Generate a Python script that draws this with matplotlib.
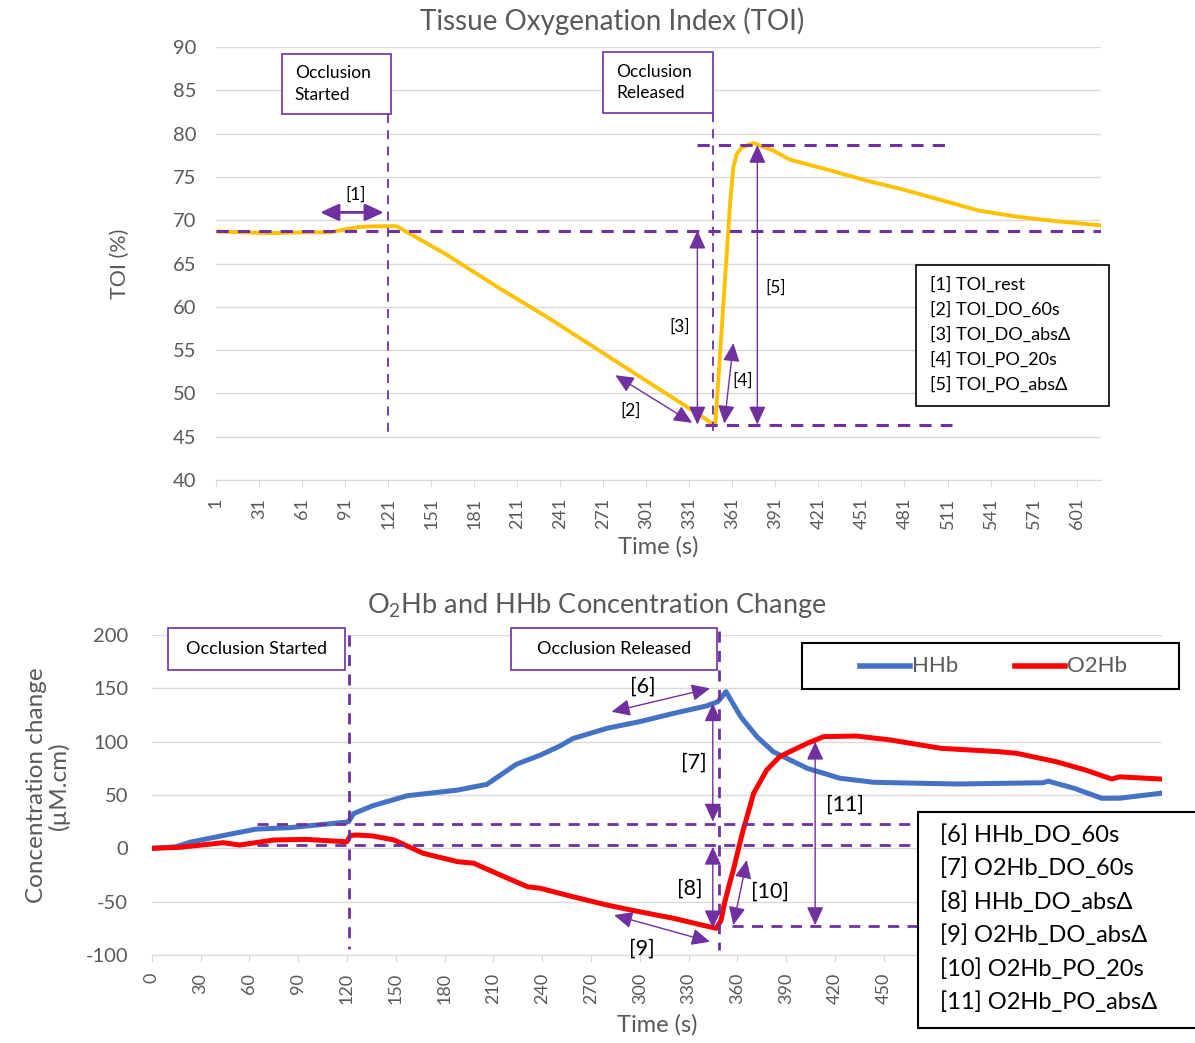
import matplotlib
matplotlib.use("Agg")
import matplotlib.pyplot as plt
from matplotlib.patches import Rectangle
from matplotlib.lines import Line2D

plt.rcParams['font.family'] = ['Lato', 'DejaVu Sans']
plt.rcParams['axes.unicode_minus'] = False
plt.rcParams['mathtext.fontset'] = 'custom'
plt.rcParams['mathtext.rm'] = 'Lato'

# ---- data ----
toi_time = [1, 20, 40, 60, 80, 90, 100, 110, 127, 162, 200, 232, 278, 325, 340, 347,
            349, 352, 356, 359.6, 361.7, 364, 367, 372, 376, 390, 401, 428, 454, 481,
            507, 533, 560, 586, 618]
toi_vals = [68.7, 68.6, 68.5, 68.6, 68.6, 68.9, 69.2, 69.3, 69.3, 66.0, 62.0, 58.8,
            53.9, 48.9, 47.3, 46.5, 46.3, 53.5, 63.5, 72.3, 76.1, 77.6, 78.3, 78.7,
            78.9, 78.0, 77.0, 75.8, 74.6, 73.5, 72.3, 71.1, 70.4, 69.9, 69.4]

hhb_time = [0, 15, 24, 44, 64, 85, 105, 120, 121, 124, 136, 157, 188, 206, 224, 239,
            251, 259, 280, 300, 321, 341, 348, 353, 362, 372, 382, 403, 423, 444, 495,
            548, 551, 567, 584, 595, 620]
hhb_vals = [0, 1.5, 5.9, 12, 18, 19.4, 22.4, 24.6, 25, 32.5, 40, 49.3, 54.6, 60, 78.7,
            87.5, 96, 103, 112.6, 118.8, 126.6, 133.5, 137.5, 146.9, 123.5, 104.7, 90.6,
            75, 65.7, 61.9, 60.3, 61.5, 63, 56.3, 46.9, 47, 51.6]

o2hb_time = [0, 17, 30, 44, 54, 75, 95, 110, 120, 122, 126, 136, 149, 167, 188, 198,
             212, 231, 239, 259, 280, 300, 321, 341, 347, 350, 352, 355, 357.5, 363,
             370, 378, 386, 403, 413, 433, 454, 485, 521, 532, 556, 574, 590, 595, 620]
o2hb_vals = [0, 0.9, 3, 5.3, 3.1, 7.8, 8.4, 7, 6.2, 12, 12.5, 11.6, 7.8, -4.7, -12.5,
             -14, -23.5, -36, -37.5, -45.4, -53.2, -59.5, -65.7, -72.9, -75, -67.3,
             -52, -34, -20.4, 14, 51.6, 73.4, 86, 98.5, 104.7, 105.3, 101.6, 93.8,
             90.6, 89, 81.2, 73.4, 65, 67, 65]

toi_ticks = list(range(1, 602, 30))
conc_ticks = list(range(0, 601, 30))
conc_tick_labels = [str(t) if t <= 450 else '' for t in conc_ticks]  # rest hidden by the key box

occl_start = 121
occl_release = 347.5

toi_rest, toi_min, toi_max = 68.8, 46.3, 78.7
hhb_rest, o2hb_rest, o2hb_min = 23, 3, -73

toi_legend = ['[1] TOI_rest', '[2] TOI_DO_60s', '[3] TOI_DO_absΔ',
              '[4] TOI_PO_20s', '[5] TOI_PO_absΔ']
conc_legend = ['[6] HHb_DO_60s', '[7] O2Hb_DO_60s', '[8] HHb_DO_absΔ',
               '[9] O2Hb_DO_absΔ', '[10] O2Hb_PO_20s', '[11] O2Hb_PO_absΔ']

GRAY = '#595959'
GRID = '#D9D9D9'
PURPLE = '#7030A0'
W, H = 1195, 1043


def fx(x):
    return x / W


def fy(y):
    return 1 - y / H


def style_axes(ax):
    for s in ['top', 'right', 'left']:
        ax.spines[s].set_visible(False)
    ax.spines['bottom'].set_color(GRID)
    ax.grid(axis='y', color=GRID, linewidth=1)
    ax.set_axisbelow(True)
    ax.tick_params(axis='y', length=0, colors=GRAY, labelsize=14.5, pad=14)
    ax.tick_params(axis='x', length=5, color=GRID, colors=GRAY, labelsize=13,
                   rotation=90, pad=8)


def arrow(ax, p0, p1, lw=1.0):
    ax.annotate('', xy=p1, xytext=p0,
                arrowprops=dict(arrowstyle='<|-|>,head_length=0.7,head_width=0.32',
                                color=PURPLE, lw=lw, shrinkA=0, shrinkB=0,
                                mutation_scale=16))


fig = plt.figure(figsize=(W / 100, H / 100), dpi=100)

# ---------------- TOI panel ----------------
ax1 = fig.add_axes([fx(216), fy(480), fx(1101) - fx(216), fy(47) - fy(480)])
ax1.plot(toi_time, toi_vals, color='#FFC000', linewidth=2.8, zorder=3)
ax1.set_xlim(1, 618)
ax1.set_ylim(40, 90)
ax1.set_yticks(range(40, 91, 5))
ax1.set_xticks(toi_ticks)
style_axes(ax1)
ax1.set_ylabel('TOI (%)', color=GRAY, fontsize=15.5)
ax1.yaxis.set_label_coords(-0.097, 0.5)
ax1.set_xlabel('Time (s)', color=GRAY, fontsize=17)
ax1.xaxis.set_label_coords(0.5, -0.13)

dash = dict(color=PURPLE, linestyle=(0, (4, 3)), linewidth=2.2, zorder=4)
ax1.plot([1, 618], [toi_rest, toi_rest], **dash)
ax1.plot([336, 513], [toi_max, toi_max], **dash)
ax1.plot([342, 514], [toi_min, toi_min], **dash)
thin = dict(color=PURPLE, linestyle=(0, (5, 4)), linewidth=1.3, zorder=4)
ax1.plot([occl_start, occl_start], [82.3, 45], **thin)
ax1.plot([occl_release, occl_release], [82.4, 45], **thin)

for (x0, x1, y0, y1, txt) in [(47, 123, 82.3, 89.2, 'Occlusion\nStarted'),
                              (271, 347.7, 82.4, 89.4, 'Occlusion\nReleased')]:
    ax1.add_patch(Rectangle((x0, y0), x1 - x0, y1 - y0, facecolor='white',
                            edgecolor=PURPLE, linewidth=1.2, zorder=5))
    ax1.text(x0 + 9, (y0 + y1) / 2, txt, fontsize=12.5, va='center', ha='left',
             linespacing=1.45, zorder=6)

arrow(ax1, (73.6, 70.9), (118, 70.9), lw=2)
arrow(ax1, (279.4, 52.1), (333, 46.6))
arrow(ax1, (336.6, 46.4), (336.6, 68.8))
arrow(ax1, (355.4, 46.5), (361.7, 55.8))
arrow(ax1, (378.4, 46.4), (378.4, 78.7))
for (x, y, t) in [(98, 73.0, '[1]'), (290, 48.0, '[2]'), (324, 57.7, '[3]'),
                  (368, 51.5, '[4]'), (391, 62.2, '[5]')]:
    ax1.text(x, y, t, fontsize=12.5, ha='center', va='center', zorder=6)

fig.text(fx(612), fy(21), 'Tissue Oxygenation Index (TOI)', color=GRAY,
         fontsize=20, ha='center', va='center')

fig.add_artist(Rectangle((fx(916), fy(406)), fx(1109) - fx(916), fy(265) - fy(406),
                         transform=fig.transFigure, facecolor='white',
                         edgecolor='black', linewidth=1.2, zorder=10))
for i, t in enumerate(toi_legend):
    fig.text(fx(930), fy(285 + i * 24.8), t, fontsize=13, ha='left', va='center',
             zorder=11)

# ---------------- concentration panel ----------------
ax2 = fig.add_axes([fx(151.7), fy(955), fx(1162) - fx(151.7), fy(635) - fy(955)])
l_hhb, = ax2.plot(hhb_time, hhb_vals, color='#4472C4', linewidth=3.6, zorder=3)
l_o2, = ax2.plot(o2hb_time, o2hb_vals, color='#FF0000', linewidth=3.6, zorder=3)
ax2.set_xlim(0, 621)
ax2.set_ylim(-100, 200)
ax2.set_yticks(range(-100, 201, 50))
ax2.set_xticks(conc_ticks)
ax2.set_xticklabels(conc_tick_labels)
style_axes(ax2)
ax2.tick_params(axis='y', pad=17)
ax2.set_ylabel('Concentration change\n(µM.cm)', color=GRAY, fontsize=17.5,
               linespacing=1.05)
ax2.yaxis.set_label_coords(-0.081, 0.53)
ax2.set_xlabel('Time (s)', color=GRAY, fontsize=17)
ax2.xaxis.set_label_coords(0.5, -0.185)

dash2 = dict(color=PURPLE, linestyle=(0, (4, 3)), linewidth=2.0, zorder=4)
ax2.plot([64.5, 480], [hhb_rest, hhb_rest], **dash2)
ax2.plot([64.5, 480], [o2hb_rest, o2hb_rest], **dash2)
ax2.plot([356.6, 480], [o2hb_min, o2hb_min], **dash2)
ax2.plot([occl_start, occl_start], [200, -94], **dash2)
ax2.plot([occl_release + 1, occl_release + 1], [204, -95], clip_on=False, **dash2)

for (x0, x1, txt) in [(10, 118.6, 'Occlusion Started'),
                      (220.8, 347.3, 'Occlusion Released')]:
    ax2.add_patch(Rectangle((x0, 167.3), x1 - x0, 39.4, facecolor='white',
                            edgecolor=PURPLE, linewidth=1.2, zorder=5, clip_on=False))
    ax2.text((x0 + x1) / 2, 187, txt, fontsize=13, ha='center', va='center', zorder=6)

arrow(ax2, (282.7, 128), (343.2, 150))
arrow(ax2, (344.9, 136), (344.9, 25))
arrow(ax2, (344.9, 1.5), (344.9, -75))
arrow(ax2, (284.2, -62.6), (343.2, -87.6))
arrow(ax2, (357.5, -72), (365.8, -11))
arrow(ax2, (407.8, 100), (407.8, -72))
for (x, y, t) in [(302, 152, '[6]'), (333, 80, '[7]'), (331, -37.5, '[8]'),
                  (301, -93.8, '[9]'), (380, -40.7, '[10]'), (426, 40.6, '[11]')]:
    ax2.text(x, y, t, fontsize=15.5, ha='center', va='center', zorder=6)

fig.text(fx(597), fy(606), 'O$_2$Hb and HHb Concentration Change', color=GRAY,
         fontsize=19.5, ha='center', va='center')

# series key box
fig.add_artist(Rectangle((fx(802), fy(689)), fx(1179) - fx(802), fy(643) - fy(689),
                         transform=fig.transFigure, facecolor='white',
                         edgecolor='black', linewidth=1.5, zorder=10))
for (x0, line, name) in [(860, l_hhb, 'HHb'), (1015, l_o2, 'O2Hb')]:
    fig.add_artist(Line2D([fx(x0), fx(x0 + 50)], [fy(666), fy(666)],
                          transform=fig.transFigure, color=line.get_color(),
                          linewidth=4, zorder=11))
    fig.text(fx(x0 + 52), fy(666), name, color=GRAY, fontsize=16, ha='left',
             va='center', zorder=11)

# index key box
fig.add_artist(Rectangle((fx(918), fy(1028)), fx(1200) - fx(918), fy(812) - fy(1028),
                         transform=fig.transFigure, facecolor='white',
                         edgecolor='black', linewidth=1.5, zorder=10))
for i, t in enumerate(conc_legend):
    fig.text(fx(940), fy(835 + i * 33.5), t, fontsize=17, ha='left', va='center',
             zorder=11)

fig.savefig('out.png', dpi=100)
